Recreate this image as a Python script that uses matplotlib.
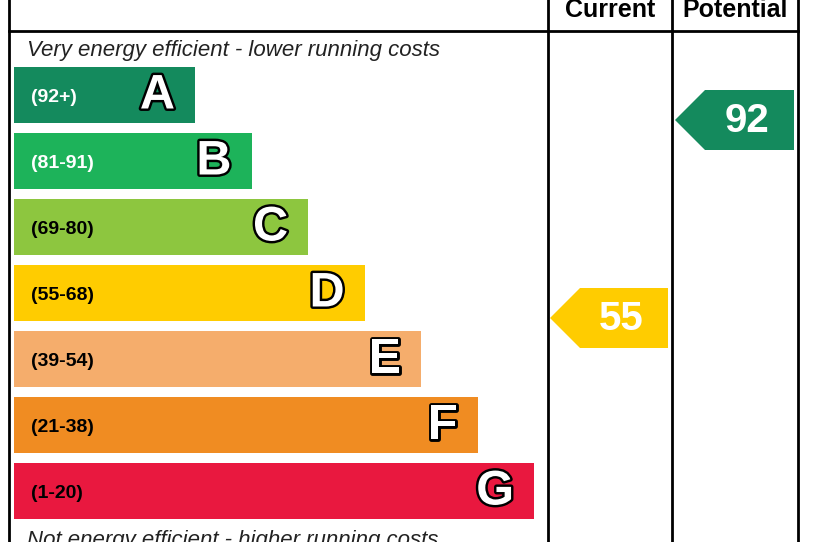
import matplotlib
matplotlib.use("Agg")
import matplotlib.pyplot as plt
from matplotlib.patches import Rectangle, Polygon
import matplotlib.patheffects as pe

# ---- data ----
bands = ["A", "B", "C", "D", "E", "F", "G"]
ranges = ["(92+)", "(81-91)", "(69-80)", "(55-68)", "(39-54)", "(21-38)", "(1-20)"]
band_colors = ["#148a5d", "#1db35a", "#8dc63f", "#ffcc00", "#f5ad6c", "#f08c22", "#e9183f"]
range_text_colors = ["white", "white", "black", "black", "black", "black", "black"]
band_min = [92, 81, 69, 55, 39, 21, 1]
current_score = 55
potential_score = 92
headers = ["Current", "Potential"]
top_caption = "Very energy efficient - lower running costs"
bottom_caption = "Not energy efficient - higher running costs"

# ---- layout (pixels) ----
W, H = 814, 542
fig = plt.figure(figsize=(W / 100, H / 100), dpi=100)
ax = fig.add_axes([0, 0, 1, 1])
ax.set_xlim(0, W)
ax.set_ylim(H, 0)
ax.axis("off")

bar_x0 = 14
bar_top0 = 67
bar_h = 56
bar_step = 66
bar_end0 = 195
bar_end_step = 56.5

def band_index(score):
    for i, m in enumerate(band_min):
        if score >= m:
            return i
    return len(band_min) - 1

for i, (b, r, c, tc) in enumerate(zip(bands, ranges, band_colors, range_text_colors)):
    y0 = bar_top0 + i * bar_step
    x1 = bar_end0 + i * bar_end_step
    ax.add_patch(Rectangle((bar_x0, y0), x1 - bar_x0, bar_h, facecolor=c, edgecolor="none"))
    yc = y0 + bar_h / 2
    ax.text(31, yc + 2, r, color=tc, fontsize=14, fontweight="bold",
            family="Liberation Sans", ha="left", va="center")
    t = ax.text(x1 - 20, yc + 1, b, color="white", fontsize=35, fontweight="bold",
                family="Liberation Sans", ha="right", va="center")
    t.set_path_effects([pe.Stroke(linewidth=3.5, foreground="black"), pe.Normal()])

# captions
ax.text(27, 56, top_caption, fontsize=16, style="italic", family="Liberation Sans",
        ha="left", va="baseline", color="#222222")
ax.text(27, 546, bottom_caption, fontsize=16, style="italic", family="Liberation Sans",
        ha="left", va="baseline", color="#222222")

# grid lines
lw = 2.0
col_x = [548, 672, 798]
ax.plot([9, 9], [-5, H + 5], color="black", lw=lw)
for x in col_x:
    ax.plot([x, x], [-5, H + 5], color="black", lw=lw)
ax.plot([9, 798], [31, 31], color="black", lw=lw)

# headers
ax.text((col_x[0] + col_x[1]) / 2, 17, headers[0], fontsize=18, fontweight="bold",
        family="Liberation Sans", ha="center", va="baseline")
ax.text((col_x[1] + col_x[2]) / 2, 17, headers[1], fontsize=18, fontweight="bold",
        family="Liberation Sans", ha="center", va="baseline")

# arrows
def arrow(score, x_tip, x_right):
    i = band_index(score)
    yc = bar_top0 + i * bar_step + bar_h / 2 + 25
    hh = 30
    pts = [(x_tip, yc), (x_tip + hh, yc - hh), (x_right, yc - hh),
           (x_right, yc + hh), (x_tip + hh, yc + hh)]
    ax.add_patch(Polygon(pts, closed=True, facecolor=band_colors[i], edgecolor="none"))
    ax.text((x_tip + hh + x_right) / 2 - 2.5, yc + 1, str(score), color="white",
            fontsize=29, fontweight="bold", family="Liberation Sans",
            ha="center", va="center")

arrow(current_score, 550, 668)
arrow(potential_score, 675, 794)

fig.savefig("out.png", dpi=100)
